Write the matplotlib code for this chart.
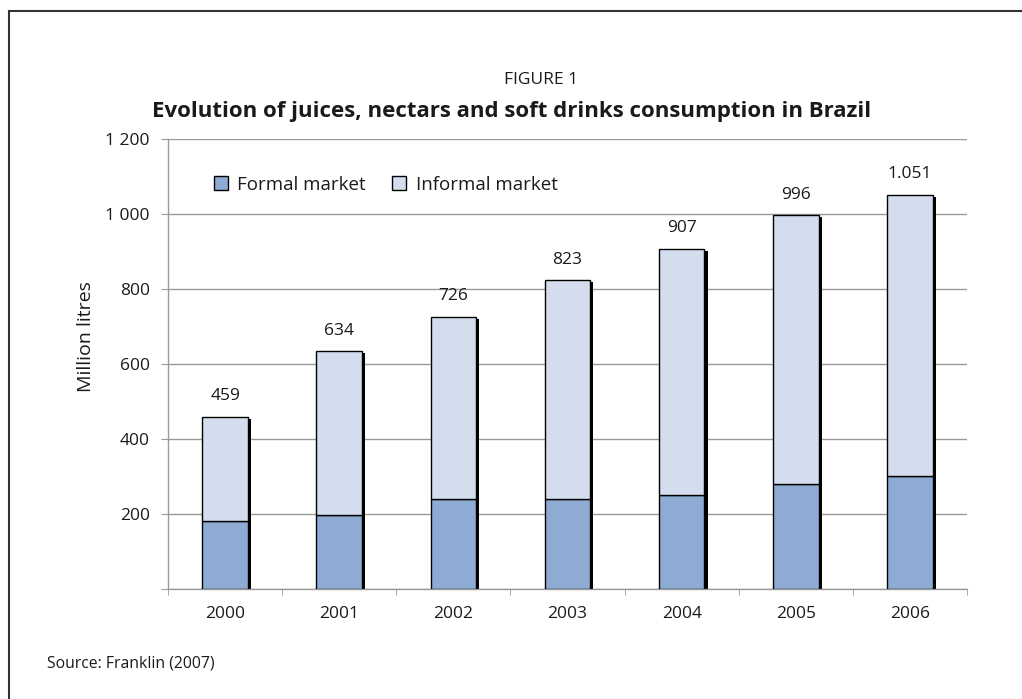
import numpy as np
import matplotlib.pyplot as plt
from matplotlib.lines import Line2D

plt.rcParams['font.family'] = ['Open Sans', 'DejaVu Sans']

# Consumo de sucos, néctares e refrigerantes (milhões de litros)
years = ['2000', '2001', '2002', '2003', '2004', '2005', '2006']
formal = np.array([180, 197, 240, 240, 250, 280, 300])
totals = np.array([459, 634, 726, 823, 907, 996, 1051])
informal = totals - formal
total_labels = ['459', '634', '726', '823', '907', '996', '1.051']
yticks = [0, 200, 400, 600, 800, 1000, 1200]
ytick_labels = ['', '200', '400', '600', '800', '1 000', '1 200']

c_formal = '#8eacd3'
c_informal = '#d4ddee'
c_grid = '#9a9a9a'
c_text = '#1a1a1a'

fig = plt.figure(figsize=(10.22, 6.99), dpi=100)
ax = fig.add_axes([0.1644, 0.1574, 0.7818, 0.6438])

x = np.arange(len(years))
w = 0.4

# sombra preta atrás de cada coluna
ax.bar(x + 0.027, totals - 5, w, color='black', zorder=2)
ax.bar(x, formal, w, color=c_formal, edgecolor='black', linewidth=1.0,
       zorder=3, label='Formal market')
ax.bar(x, informal, w, bottom=formal, color=c_informal, edgecolor='black',
       linewidth=1.0, zorder=3, label='Informal market')

for xi, t, lab in zip(x, totals, total_labels):
    ax.text(xi, t + 33, lab, ha='center', va='bottom', fontsize=12.5, color=c_text)

ax.set_xlim(-0.5, len(years) - 0.5)
ax.set_ylim(0, 1200)
ax.set_yticks(yticks)
ax.set_yticklabels(ytick_labels, fontsize=12.5, color=c_text)
ax.set_xticks(x)
ax.set_xticklabels(years, fontsize=12.5, color=c_text)
ax.tick_params(axis='x', length=0, pad=12)
ax.set_xticks(np.arange(-0.5, len(years)), minor=True)
ax.tick_params(axis='x', which='minor', length=4, color=c_grid, direction='out')
ax.tick_params(axis='y', length=5, color=c_grid, pad=8)

ax.yaxis.grid(True, color=c_grid, linewidth=1.0, zorder=0)
ax.set_axisbelow(True)
for s in ['top', 'right']:
    ax.spines[s].set_visible(False)
for s in ['left', 'bottom']:
    ax.spines[s].set_color(c_grid)
    ax.spines[s].set_linewidth(1.0)

ax.set_ylabel('Million litres', fontsize=14, color=c_text)
ax.yaxis.set_label_coords(-0.091, 0.56)

leg = ax.legend(loc='upper left', bbox_to_anchor=(0.048, 0.935), ncol=2, frameon=False,
                fontsize=13.5, handlelength=0.75, handleheight=0.75, handletextpad=0.5,
                columnspacing=1.4, borderaxespad=0)
for t in leg.get_texts():
    t.set_color(c_text)

fig.text(0.529, 0.885, 'FIGURE 1', ha='center', va='center', fontsize=12.5, color=c_text)
fig.text(0.501, 0.840, 'Evolution of juices, nectars and soft drinks consumption in Brazil',
         ha='center', va='center', fontsize=16, fontweight='bold', color=c_text)
fig.text(0.046, 0.0515, 'Source: Franklin (2007)', ha='left', va='center',
         fontsize=11.3, color=c_text)

# moldura (apenas lados esquerdo e superior)
fig.add_artist(Line2D([0.009, 0.009], [0.0, 0.984], color='#333333', linewidth=1.5))
fig.add_artist(Line2D([0.009, 1.0], [0.984, 0.984], color='#333333', linewidth=1.5))

fig.savefig('out.png', dpi=100)
